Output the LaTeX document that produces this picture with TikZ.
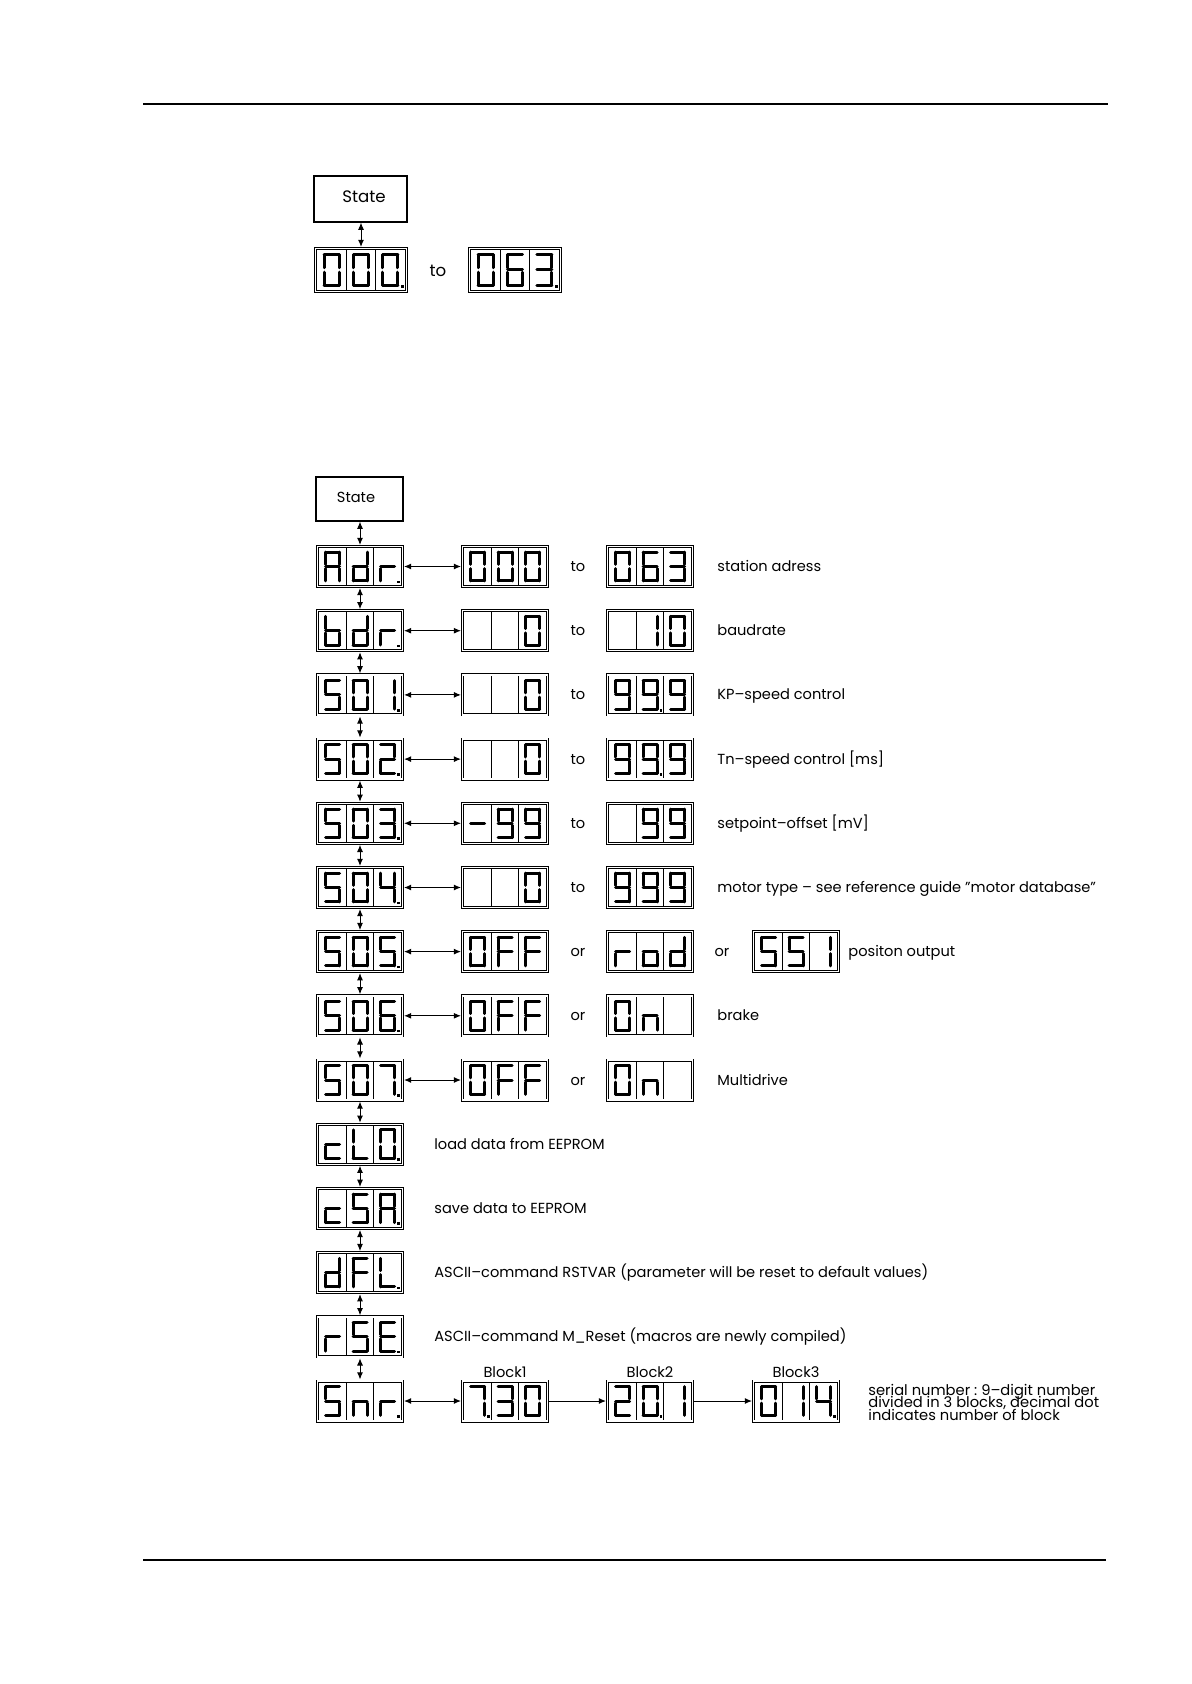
\documentclass[tikz,border=0pt]{standalone}
\usepackage{fontspec}
\setmainfont{Poppins}
\usetikzlibrary{arrows.meta}

\makeatletter
\def\sev@a#1{\draw[seg] (#1-7,-14.3) -- (#1+7,-14.3);}
\def\sev@b#1{\draw[seg] (#1+7,-14.3) -- (#1+7,-2.1);}
\def\sev@c#1{\draw[seg] (#1+7,2.1) -- (#1+7,14.3);}
\def\sev@d#1{\draw[seg] (#1-7,14.3) -- (#1+7,14.3);}
\def\sev@e#1{\draw[seg] (#1-7,2.1) -- (#1-7,14.3);}
\def\sev@f#1{\draw[seg] (#1-7,-14.3) -- (#1-7,-2.1);}
\def\sev@g#1{\draw[seg] (#1-7,0) -- (#1+7,0);}
\def\sev@x#1{}
\def\sev@p#1{\fill (#1+9.8,14) rectangle (#1+12.4,16.6);}
\newcommand\sevdigit[2]{\edef\sevlist{#2}%
  \@for\sevitem:=\sevlist\do{\csname sev@\sevitem\endcsname{#1}}}
\makeatother

\def\svZero{a,b,c,d,e,f}
\def\svOne{b,c}
\def\svTwo{a,b,g,e,d}
\def\svThree{a,b,g,c,d}
\def\svFour{f,g,b,c}
\def\svFive{a,f,g,c,d}
\def\svSix{a,f,g,e,d,c}
\def\svSeven{a,b,c}
\def\svNine{a,b,c,d,f,g}
\def\svA{a,b,c,e,f,g}
\def\svd{b,c,d,e,g}
\def\svr{e,g}
\def\svb{c,d,e,f,g}
\def\svc{g,e,d}
\def\svL{f,e,d}
\def\svE{a,f,g,e,d}
\def\svF{a,f,g,e}
\def\svn{c,e,g}
\def\svo{c,d,e,g}
\def\svMinus{g}
\def\svBlank{x}

% #1 style #2 name #3 position #4 scale #5-#7 cells
\newcommand\sevseg[7]{%
  \node[#1] (#2) at (#3) {};
  \begin{scope}[shift={(#2.center)},scale=#4]
    \draw[divline] (-13.8,-18.5) -- (-13.8,18.5) (13.8,-18.5) -- (13.8,18.5);
    \sevdigit{-27.5}{#5}\sevdigit{0}{#6}\sevdigit{27.5}{#7}
  \end{scope}}

\tikzset{
  seg/.style={line width=1.5pt, line cap=round, line join=round},
  divline/.style={line width=0.4pt},
  dispbox/.style={draw, line width=0.4pt, double, double distance=0.7pt,
    minimum width=42.5pt, minimum height=20pt, inner sep=0pt, outer sep=0.75pt},
  dispboxL/.style={dispbox, minimum width=45.5pt, minimum height=21.5pt},
  statebox/.style={draw, line width=0.6pt, inner sep=0pt},
  lbl/.style={font=\fontsize{7.3}{8.6}\selectfont, inner sep=0pt},
  lblL/.style={font=\fontsize{8.3}{10}\selectfont, inner sep=0pt},
  desc/.style={lbl, anchor=base west},
  conj/.style={lbl, anchor=base},
  sn/.style={anchor=base west, inner sep=0pt, font=\fontsize{7.35}{8}\selectfont},
  biarrow/.style={line width=0.5pt, {Latex[length=3.6pt,width=3pt]}-{Latex[length=3.6pt,width=3pt]}},
  onearrow/.style={line width=0.5pt, -{Latex[length=3.6pt,width=3pt]}},
  rule/.style={line width=1pt}
}

\begin{document}
\begin{tikzpicture}[x=0.5pt,y=-0.5pt]
\useasboundingbox (0,0) rectangle (1191,1684);

% page rules
\coordinate (t1) at (143,104); \coordinate (t2) at (1108,104);
\coordinate (b1) at (143,1560); \coordinate (b2) at (1106,1560);
\draw[rule] (t1) -- (t2);
\draw[rule] (b1) -- (b2);

% ---------- upper section ----------
\node[statebox, minimum width=46.5pt, minimum height=23pt] (stA) at (360.5,199) {};
\node[lblL] (stAt) at (364,197) {State};
\sevseg{dispboxL}{u1}{361,270}{1.07}{\svZero}{\svZero}{\svZero,p}
\node[lblL] (uto) at (438,271) {to};
\sevseg{dispboxL}{u2}{515,270}{1.07}{\svZero}{\svSix}{\svThree,p}
\draw[biarrow] (stA.south -| u1.north) -- (u1.north);

% ---------- lower section ----------
\node[statebox, minimum width=43.5pt, minimum height=22pt] (stB) at (359.5,499) {};
\node[lbl] (stBt) at (356,497) {State};

% column 1
\sevseg{dispbox}{r0}{360,566.5}{1}{\svA}{\svd}{\svr,p}
\sevseg{dispbox}{r1}{360,630.7}{1}{\svb}{\svd}{\svr,p}
\sevseg{dispbox}{r2}{360,694.9}{1}{\svFive}{\svZero}{\svOne,p}
\sevseg{dispbox}{r3}{360,759.1}{1}{\svFive}{\svZero}{\svTwo,p}
\sevseg{dispbox}{r4}{360,823.3}{1}{\svFive}{\svZero}{\svThree,p}
\sevseg{dispbox}{r5}{360,887.5}{1}{\svFive}{\svZero}{\svFour,p}
\sevseg{dispbox}{r6}{360,951.6}{1}{\svFive}{\svZero}{\svFive,p}
\sevseg{dispbox}{r7}{360,1015.8}{1}{\svFive}{\svZero}{\svSix,p}
\sevseg{dispbox}{r8}{360,1080.0}{1}{\svFive}{\svZero}{\svSeven,p}
\sevseg{dispbox}{r9}{360,1144.2}{1}{\svc}{\svL}{\svZero,p}
\sevseg{dispbox}{r10}{360,1208.4}{1}{\svc}{\svFive}{\svA,p}
\sevseg{dispbox}{r11}{360,1272.6}{1}{\svd}{\svF}{\svL,p}
\sevseg{dispbox}{r12}{360,1336.8}{1}{\svr}{\svFive}{\svE,p}
\sevseg{dispbox}{r13}{360,1401.0}{1}{\svFive}{\svn}{\svr,p}

% vertical arrows
\draw[biarrow] (stB.south -| r0.north) -- (r0.north);
\foreach \i [evaluate=\i as \j using int(\i+1)] in {0,...,12}
  \draw[biarrow] (r\i.south) -- (r\j.north);

% columns 2, 3, 4
\sevseg{dispbox}{a0}{505,566.5}{1}{\svZero}{\svZero}{\svZero}
\sevseg{dispbox}{b0}{650,566.5}{1}{\svZero}{\svSix}{\svThree}
\sevseg{dispbox}{a1}{505,630.7}{1}{\svBlank}{\svBlank}{\svZero}
\sevseg{dispbox}{b1}{650,630.7}{1}{\svBlank}{\svOne}{\svZero}
\sevseg{dispbox}{a2}{505,694.9}{1}{\svBlank}{\svBlank}{\svZero}
\sevseg{dispbox}{b2}{650,694.9}{1}{\svNine}{\svNine,p}{\svNine}
\sevseg{dispbox}{a3}{505,759.1}{1}{\svBlank}{\svBlank}{\svZero}
\sevseg{dispbox}{b3}{650,759.1}{1}{\svNine}{\svNine,p}{\svNine}
\sevseg{dispbox}{a4}{505,823.3}{1}{\svMinus}{\svNine}{\svNine}
\sevseg{dispbox}{b4}{650,823.3}{1}{\svBlank}{\svNine}{\svNine}
\sevseg{dispbox}{a5}{505,887.5}{1}{\svBlank}{\svBlank}{\svZero}
\sevseg{dispbox}{b5}{650,887.5}{1}{\svNine}{\svNine}{\svNine}
\sevseg{dispbox}{a6}{505,951.6}{1}{\svZero}{\svF}{\svF}
\sevseg{dispbox}{b6}{650,951.6}{1}{\svr}{\svo}{\svd}
\sevseg{dispbox}{c6}{796,951.6}{1}{\svFive}{\svFive}{\svOne}
\sevseg{dispbox}{a7}{505,1015.8}{1}{\svZero}{\svF}{\svF}
\sevseg{dispbox}{b7}{650,1015.8}{1}{\svZero}{\svn}{\svBlank}
\sevseg{dispbox}{a8}{505,1080.0}{1}{\svZero}{\svF}{\svF}
\sevseg{dispbox}{b8}{650,1080.0}{1}{\svZero}{\svn}{\svBlank}
\sevseg{dispbox}{a13}{505,1401.0}{1}{\svSeven,p}{\svThree}{\svZero}
\sevseg{dispbox}{b13}{650,1401.0}{1}{\svTwo}{\svZero,p}{\svOne}
\sevseg{dispbox}{c13}{796,1401.0}{1}{\svZero}{\svOne}{\svFour,p}

% horizontal arrows
\foreach \i in {0,...,8,13}
  \draw[biarrow] (r\i.east) -- (a\i.west);
\draw[onearrow] (a13.east) -- (b13.west);
\draw[onearrow] (b13.east) -- (c13.west);

% conjunctions
\node[conj] (k0) at (578,571.5) {to};
\node[conj] (k1) at (578,635.7) {to};
\node[conj] (k2) at (578,699.9) {to};
\node[conj] (k3) at (578,764.1) {to};
\node[conj] (k4) at (578,828.3) {to};
\node[conj] (k5) at (578,892.5) {to};
\node[conj] (k6) at (578,956.6) {or};
\node[conj] (k6b) at (722,956.6) {or};
\node[conj] (k7) at (578,1020.8) {or};
\node[conj] (k8) at (578,1085.0) {or};

% descriptions
\node[desc] (d0) at (717,571.5) {station adress};
\node[desc] (d1) at (717,635.7) {baudrate};
\node[desc] (d2) at (717,699.9) {KP–speed control};
\node[desc] (d3) at (717,764.1) {Tn–speed control [ms]};
\node[desc] (d4) at (717,828.3) {setpoint–offset [mV]};
\node[desc] (d5) at (717,892.5) {motor type – see reference guide \symbol{"22}motor database\symbol{"22}};
\node[desc] (d6) at (848,956.6) {positon output};
\node[desc] (d7) at (717,1020.8) {brake};
\node[desc] (d8) at (717,1085.0) {Multidrive};
\node[desc] (d9) at (434,1149.2) {load data from EEPROM};
\node[desc] (d10) at (434,1213.4) {save data to EEPROM};
\node[desc] (d11) at (434,1277.6) {ASCII–command RSTVAR (parameter will be reset to default values)};
\node[desc] (d12) at (434,1341.8) {ASCII–command M\_Reset (macros are newly compiled)};

% block labels
\node[lbl] (bl1) at (505,1372.5) {Block1};
\node[lbl] (bl2) at (650,1372.5) {Block2};
\node[lbl] (bl3) at (796,1372.5) {Block3};

% serial number text
\node[sn] (s1) at (868,1395) {serial number :\ 9–digit number};
\node[sn] (s2) at (868,1407.5) {divided in 3 blocks, decimal dot};
\node[sn] (s3) at (868,1420) {indicates number of block};
\end{tikzpicture}
\end{document}
